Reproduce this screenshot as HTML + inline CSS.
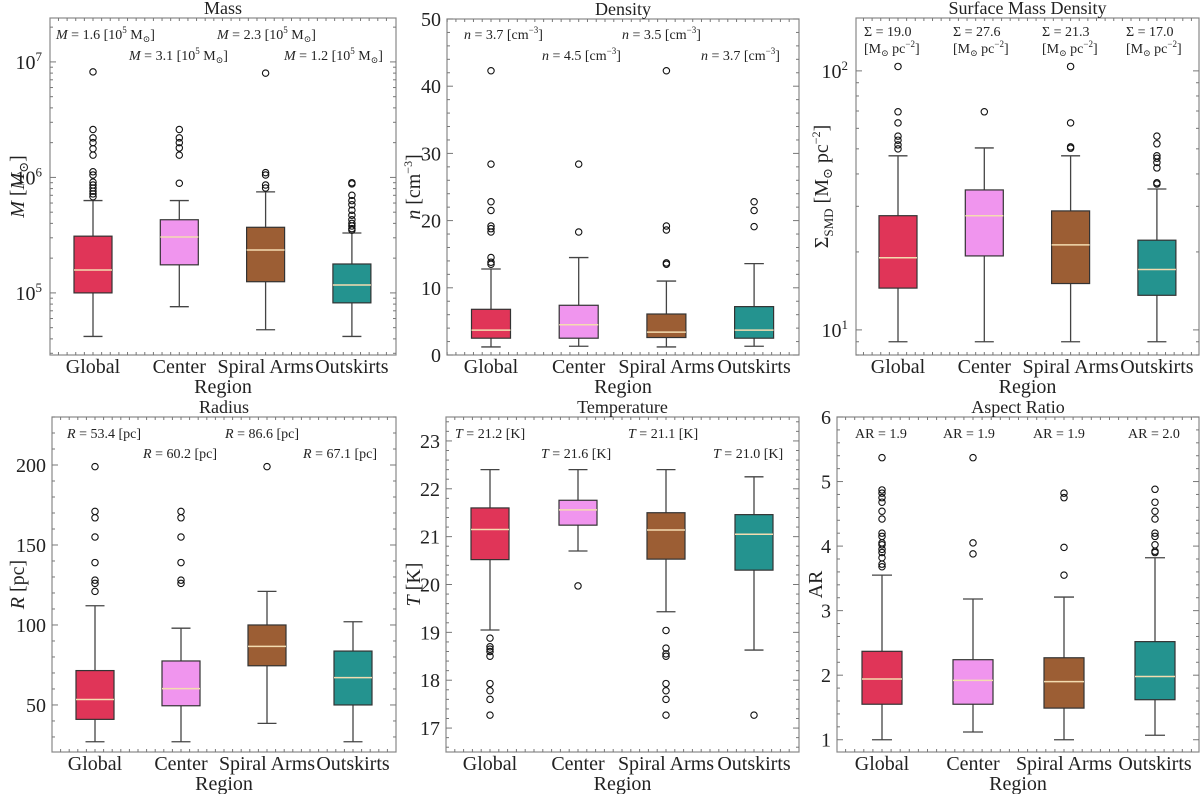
<!DOCTYPE html>
<html><head><meta charset="utf-8"><style>
html,body{margin:0;padding:0;background:#fff;}
svg, svg text{font-family:"Liberation Serif","DejaVu Serif",serif;}
</style></head><body>
<svg id="fig" width="1200" height="794" viewBox="0 0 1200 794" xmlns="http://www.w3.org/2000/svg" font-family="Liberation Serif, DejaVu Serif, serif"></svg>
<script>
const categories = ["Global","Center","Spiral Arms","Outskirts"];
const colors = ["#e03558","#f095ee","#9c5e34","#24938f"];

// Mass (M_sun)
const massLow = [4.2e4, 7.6e4, 4.8e4, 4.2e4];
const massQ1 = [1.0e5, 1.75e5, 1.25e5, 8.2e4];
const massMed = [1.58e5, 3.05e5, 2.35e5, 1.17e5];
const massQ3 = [3.1e5, 4.3e5, 3.7e5, 1.78e5];
const massHigh = [6.3e5, 6.3e5, 7.5e5, 3.3e5];
const massOut = [[8.2e6,2.6e6,2.2e6,2.0e6,1.77e6,1.56e6,1.12e6,1.05e6,9.1e5,8.6e5,8.1e5,7.6e5,7.2e5,6.8e5],[2.6e6,2.2e6,2.0e6,1.8e6,1.56e6,8.9e5],[8.0e6,1.1e6,1.05e6,8.6e5,8.1e5],[9.0e5,8.8e5,7.0e5,6.3e5,5.8e5,5.2e5,4.7e5,4.3e5,4.0e5,3.8e5,3.6e5,3.5e5]];
const massNotes = ["1.6","3.1","2.3","1.2"];

// Density (cm^-3)
const densLow = [1.2,1.3,1.2,1.3];
const densQ1 = [2.5,2.5,2.6,2.5];
const densMed = [3.7,4.5,3.4,3.7];
const densQ3 = [6.8,7.4,6.1,7.2];
const densHigh = [12.8,14.5,11.0,13.6];
const densOut = [[13.5,13.8,14.5,18.3,18.8,19.2,21.5,22.8,28.4,42.3],[18.3,28.4],[13.5,13.7,18.6,19.2,42.3],[19.1,21.5,22.8]];
const densNotes = ["3.7","4.5","3.5","3.7"];

// Surface mass density
const smdLow = [9.0,9.0,9.0,9.0];
const smdQ1 = [14.5,19.3,15.1,13.6];
const smdMed = [19.0,27.6,21.3,17.1];
const smdQ3 = [27.6,34.7,28.8,22.2];
const smdHigh = [47,50.4,47,35];
const smdOut = [[104,69.5,63,56,54,51.8,50],[69.5],[104,63,50.9,50.3],[56,52.3,47,46,44.3,42.2,37.0,36.6]];
const smdNotes = ["19.0","27.6","21.3","17.0"];

// Radius (pc)
const radLow = [27,27,38.5,27];
const radQ1 = [41,49.5,74.5,50];
const radMed = [53.4,60.2,86.6,67.1];
const radQ3 = [71.5,77.5,100,83.7];
const radHigh = [112,98,121,102];
const radOut = [[121,126,128,139,155,167,171,199],[126,128,139,155,167,171],[199],[]];
const radNotes = ["53.4","60.2","86.6","67.1"];

// Temperature (K)
const tLow = [19.05,20.7,19.43,18.63];
const tQ1 = [20.52,21.24,20.53,20.3];
const tMed = [21.15,21.56,21.14,21.05];
const tQ3 = [21.6,21.76,21.5,21.46];
const tHigh = [22.4,22.4,22.4,22.25];
const tOut = [[18.88,18.7,18.65,18.6,18.5,17.93,17.78,17.6,17.27],[19.97],[19.04,18.67,18.55,18.5,17.93,17.78,17.6,17.27],[17.27]];
const tNotes = ["21.2","21.6","21.1","21.0"];

// Aspect ratio
const arLow = [1.0,1.12,1.0,1.07];
const arQ1 = [1.55,1.55,1.49,1.62];
const arMed = [1.94,1.92,1.9,1.98];
const arQ3 = [2.37,2.24,2.27,2.52];
const arHigh = [3.55,3.18,3.21,3.82];
const arOut = [[3.68,3.72,3.82,3.9,3.95,4.02,4.05,4.15,4.2,4.42,4.54,4.68,4.75,4.82,4.87,5.37],[3.88,4.05,5.37],[3.55,3.98,4.75,4.82],[3.9,3.92,4.02,4.15,4.2,4.42,4.54,4.68,4.88]];
const arNotes = ["1.9","1.9","1.9","2.0"];

const NS = "http://www.w3.org/2000/svg";
const fig = document.getElementById("fig");
function mk(tag, attrs, parent){
  const e = document.createElementNS(NS, tag);
  for (const k in attrs) e.setAttribute(k, attrs[k]);
  (parent||fig).appendChild(e);
  return e;
}

function panel(p){
  const g = mk("g", {});
  
  
  const tf = p.log ? (v => Math.log10(v)) : (v => v);
  const y0 = tf(p.ymin), y1 = tf(p.ymax);
  const Y = v => p.bottom - (tf(v) - y0) / (y1 - y0) * (p.bottom - p.top);
  const X = i => p.cx0 + i * p.dx;
  const W = p.bw;
  const fr = mk("rect", {x:p.left, y:p.top, width:p.right-p.left, height:p.bottom-p.top, fill:"none", stroke:"#888", "stroke-width":1.2}, g);
  
  
  const t = mk("text", {x:(p.left+p.right)/2, y:p.top-4, "text-anchor":"middle", "font-size":18, fill:"#222"}, g);
  t.textContent = p.title;
  
  
  const tg = mk("g", {stroke:"#777", "stroke-width":1}, g);
  if (p.log){
    for (let d = Math.floor(y0); d <= Math.ceil(y1); d++){
      for (let m = 1; m < 10; m++){
        const v = m * Math.pow(10, d);
        if (tf(v) < y0 || tf(v) > y1) continue;
        const yy = Y(v), L = m===1 ? 6 : 3;
        mk("line", {x1:p.left, x2:p.left+L, y1:yy, y2:yy}, tg);
        mk("line", {x1:p.right, x2:p.right-L, y1:yy, y2:yy}, tg);
        if (m===1){
          const lab = mk("text", {x:p.left-8, y:yy+7, "text-anchor":"end", "font-size":20, fill:"#222", stroke:"none"}, g);
          
          
          lab.innerHTML = '10<tspan dy="-8" font-size="13">' + d + '</tspan>';
        }
      }
    }
  } else {
    for (let v = Math.ceil(p.ymin/p.minor)*p.minor; v <= p.ymax+1e-9; v += p.minor){
      const yy = Y(v);
      const major = Math.abs(v/p.major - Math.round(v/p.major)) < 1e-6;
      const L = major ? 6 : 3;
      mk("line", {x1:p.left, x2:p.left+L, y1:yy, y2:yy}, tg);
      mk("line", {x1:p.right, x2:p.right-L, y1:yy, y2:yy}, tg);
      if (major){
        const lab = mk("text", {x:p.left-6, y:yy+7, "text-anchor":"end", "font-size":20, fill:"#222", stroke:"none"}, g);
        lab.textContent = String(Math.round(v));
        
        
      }
    }
  }
  for (let f = -0.5; f <= 3.5; f += 0.1){
    const xx = X(f);
    if (xx <= p.left || xx >= p.right) continue;
    mk("line", {x1:xx, x2:xx, y1:p.bottom, y2:p.bottom-3}, tg);
    mk("line", {x1:xx, x2:xx, y1:p.top, y2:p.top+3}, tg);
  }
  const yl = mk("text", {transform:`translate(${p.ylx},${(p.top+p.bottom)/2}) rotate(-90)`, "text-anchor":"middle", "font-size":20, fill:"#222"}, g);
  yl.innerHTML = p.ylabel;
  
  
  categories.forEach((c,i)=>{
    const tx = mk("text", {x:X(i), y:p.bottom+18, "text-anchor":"middle", "font-size":20, fill:"#222"}, g);
    tx.textContent = c;
    
    
  });
  const xl = mk("text", {x:(p.left+p.right)/2, y:p.bottom+38, "text-anchor":"middle", "font-size":20, fill:"#222"}, g);
  xl.textContent = "Region";
  
  
  categories.forEach((c,i)=>{
    const bg = mk("g", {}, g);
    
    
    const x = X(i);
    mk("line", {x1:x, x2:x, y1:Y(p.low[i]), y2:Y(p.q1[i]), stroke:"#444", "stroke-width":1.3}, bg);
    mk("line", {x1:x, x2:x, y1:Y(p.q3[i]), y2:Y(p.high[i]), stroke:"#444", "stroke-width":1.3}, bg);
    mk("line", {x1:x-W/4, x2:x+W/4, y1:Y(p.low[i]), y2:Y(p.low[i]), stroke:"#444", "stroke-width":1.3}, bg);
    mk("line", {x1:x-W/4, x2:x+W/4, y1:Y(p.high[i]), y2:Y(p.high[i]), stroke:"#444", "stroke-width":1.3}, bg);
    mk("rect", {x:x-W/2, y:Y(p.q3[i]), width:W, height:Y(p.q1[i])-Y(p.q3[i]), fill:colors[i], stroke:"#333", "stroke-width":1.2}, bg);
    mk("line", {x1:x-W/2, x2:x+W/2, y1:Y(p.med[i]), y2:Y(p.med[i]), stroke:"#f3dcb0", "stroke-width":1.5}, bg);
    p.out[i].forEach(v=>{
      const o = mk("circle", {cx:x, cy:Y(v), r:3.2, fill:"none", stroke:"#111", "stroke-width":1.1}, bg);
      
      
    });
  });
  p.notes.forEach((n,i)=>{
    const a = mk("text", {x:p.nx[i], y:p.ny[i], "font-size":14, fill:"#222"}, g);
    a.innerHTML = p.noteFmt(n).replace('{X}', p.nx[i]);
    
    
  });
}

const I = s => '<tspan font-style="italic">' + s + '</tspan>';
panel({name:"mass", title:"Mass", log:true, ymin:2.9e4, ymax:2.4e7, left:50, right:396, top:18, bottom:355, cx0:93, dx:86.3, bw:38, ylx:24,
  ylabel: I("M") + " [" + I("M") + '<tspan font-size="13" dy="4">⊙</tspan><tspan dy="-4">]</tspan>',
  low:massLow, q1:massQ1, med:massMed, q3:massQ3, high:massHigh, out:massOut, notes:massNotes,
  nx:[56,129,217,284], ny:[39,60,39,60],
  noteFmt:n=> I("M") + " = " + n + ' [10<tspan dy="-6" font-size="9">5</tspan><tspan dy="6"> M</tspan><tspan font-size="9" dy="3">⊙</tspan><tspan dy="-3">]</tspan>'});
panel({name:"density", title:"Density", log:false, ymin:0, ymax:50, major:10, minor:2, left:447, right:799, top:19, bottom:355, cx0:491, dx:87.7, bw:39, ylx:420,
  ylabel: I("n") + ' [cm<tspan dy="-8" font-size="12">−3</tspan><tspan dy="8">]</tspan>',
  low:densLow, q1:densQ1, med:densMed, q3:densQ3, high:densHigh, out:densOut, notes:densNotes,
  nx:[464,542,622,701], ny:[39,60,39,60],
  noteFmt:n=> I("n") + " = " + n + ' [cm<tspan dy="-6" font-size="9">−3</tspan><tspan dy="6">]</tspan>'});
panel({name:"smd", title:"Surface Mass Density", log:true, ymin:8.0, ymax:160, left:856, right:1199, top:18, bottom:355, cx0:898, dx:86.3, bw:38, ylx:828,
  ylabel: 'Σ<tspan font-size="13" dy="5">SMD</tspan><tspan dy="-5"> [M</tspan><tspan font-size="13" dy="4">⊙</tspan><tspan dy="-4"> pc</tspan><tspan dy="-8" font-size="12">−2</tspan><tspan dy="8">]</tspan>',
  low:smdLow, q1:smdQ1, med:smdMed, q3:smdQ3, high:smdHigh, out:smdOut, notes:smdNotes,
  nx:[864,953,1042,1126], ny:[36,36,36,36],
  noteFmt:n=> 'Σ = ' + n + '<tspan x="{X}" dy="17">[M</tspan><tspan font-size="9" dy="3">⊙</tspan><tspan dy="-3"> pc</tspan><tspan dy="-6" font-size="9">−2</tspan><tspan dy="6">]</tspan>'});
panel({name:"radius", title:"Radius", log:false, ymin:20.6, ymax:230, major:50, minor:10, left:52, right:396, top:417, bottom:752, cx0:95, dx:86, bw:38, ylx:24,
  ylabel: I("R") + " [pc]",
  low:radLow, q1:radQ1, med:radMed, q3:radQ3, high:radHigh, out:radOut, notes:radNotes,
  nx:[67,143,225,303], ny:[438,458,438,458],
  noteFmt:n=> I("R") + " = " + n + " [pc]"});
panel({name:"temperature", title:"Temperature", log:false, ymin:16.5, ymax:23.5, major:1, minor:0.2, left:446, right:799, top:417, bottom:752, cx0:490, dx:88, bw:38, ylx:420,
  ylabel: I("T") + " [K]",
  low:tLow, q1:tQ1, med:tMed, q3:tQ3, high:tHigh, out:tOut, notes:tNotes,
  nx:[455,541,628,713], ny:[438,458,438,458],
  noteFmt:n=> I("T") + " = " + n + " [K]"});
panel({name:"aspect-ratio", title:"Aspect Ratio", log:false, ymin:0.81, ymax:6.0, major:1, minor:0.2, left:837, right:1199, top:417, bottom:752, cx0:882, dx:91, bw:40, ylx:822,
  ylabel: "AR",
  low:arLow, q1:arQ1, med:arMed, q3:arQ3, high:arHigh, out:arOut, notes:arNotes,
  nx:[855,943,1033,1128], ny:[438,438,438,438],
  noteFmt:n=> "AR = " + n});
</script>
</body></html>
